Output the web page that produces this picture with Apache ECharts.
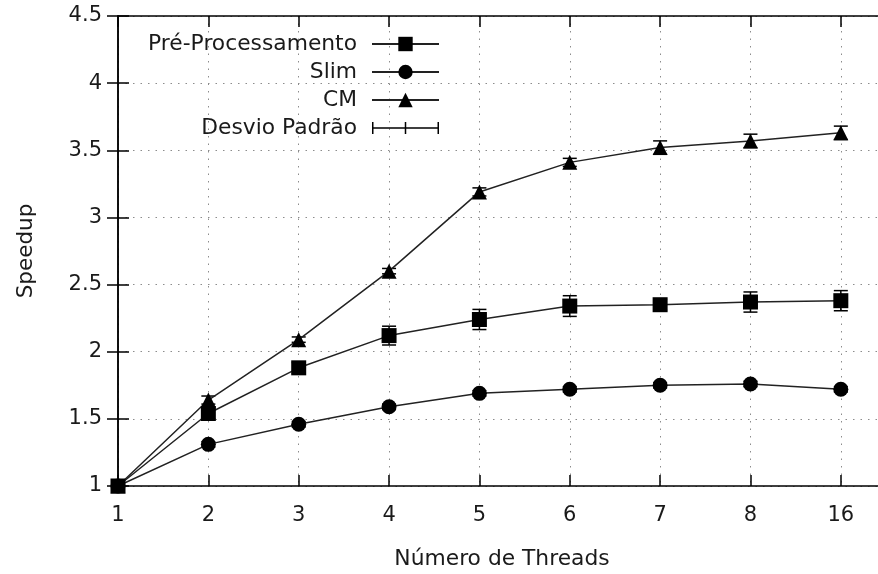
<!DOCTYPE html>
<html><head><meta charset="utf-8">
<script src="https://cdn.jsdelivr.net/npm/echarts@6/dist/echarts.min.js"></script>
<style>html,body{margin:0;padding:0;background:#fff}#c{width:878px;height:574px}</style>
</head><body><div id="c"></div>
<script>
const threads = ['1','2','3','4','5','6','7','8','16'];
const preProc    = [1.00, 1.54, 1.88, 2.12, 2.24, 2.34, 2.35, 2.37, 2.38];
const preProcErr = [0.00, 0.04, 0.04, 0.07, 0.075, 0.077, 0.04, 0.075, 0.075];
const slim       = [1.00, 1.31, 1.46, 1.59, 1.69, 1.72, 1.75, 1.76, 1.72];
const slimErr    = [0.00, 0.02, 0.02, 0.02, 0.02, 0.02, 0.02, 0.02, 0.02];
const cm         = [1.00, 1.64, 2.09, 2.60, 3.19, 3.41, 3.52, 3.57, 3.63];
const cmErr      = [0.00, 0.03, 0.02, 0.02, 0.03, 0.03, 0.05, 0.05, 0.05];
const seriesNames = ['Pré-Processamento', 'Slim', 'CM', 'Desvio Padrão'];
const yMin = 1, yMax = 4.5, yStep = 0.5;

const FONT = 'DejaVu Sans';
const TXT = '#1a1a1a';

function pts(arr) { return arr.map((v, i) => [i, v]); }
const errData = [];
[[preProc, preProcErr], [slim, slimErr], [cm, cmErr]].forEach(([vals, errs]) => {
  vals.forEach((v, i) => { if (errs[i] > 0) errData.push([i, v - errs[i], v + errs[i]]); });
});

const chart = echarts.init(document.getElementById('c'), null, {renderer: 'canvas'});
const axisLine = {show: true, lineStyle: {color: '#000', width: 1.5}};
const tick = {show: true, inside: true, length: 11, lineStyle: {color: '#000', width: 1.5}};
const grid = {show: true, lineStyle: {color: '#8c8c8c', width: 1, type: [1.5, 6]}};
const xFmt = v => (Number.isInteger(v) && threads[v] !== undefined) ? threads[v] : '';

const errIcon = 'path://M0,5.25h67v1.5h-67z M0,0h1.5v12h-1.5z M32.75,0h1.5v12h-1.5z M65.5,0h1.5v12h-1.5z';

chart.setOption({
  animation: false,
  textStyle: {fontFamily: FONT},
  grid: {left: 118, right: -8, top: 16, bottom: 88, containLabel: false, outerBoundsMode: 'none'},
  xAxis: [{
    type: 'value', min: 0, max: 8.5, interval: 1, position: 'bottom',
    name: 'Número de Threads', nameLocation: 'middle', nameGap: 62,
    nameTextStyle: {fontSize: 21.8, color: TXT, fontFamily: FONT},
    axisLine, axisTick: tick, splitLine: grid,
    axisLabel: {formatter: xFmt, fontSize: 21, color: TXT, margin: 19, fontFamily: FONT, showMaxLabel: false}
  }, {
    type: 'value', min: 0, max: 8.5, interval: 1, position: 'top',
    axisLine, axisTick: tick, splitLine: {show: false}, axisLabel: {show: false}
  }],
  yAxis: [{
    type: 'value', min: yMin, max: yMax, interval: yStep, position: 'left',
    name: 'Speedup', nameLocation: 'middle', nameGap: 81, nameRotate: 90,
    nameTextStyle: {fontSize: 21.5, color: TXT, fontFamily: FONT},
    axisLine, axisTick: tick, splitLine: grid,
    axisLabel: {fontSize: 21, color: TXT, margin: 16, fontFamily: FONT}
  }, {
    type: 'value', min: yMin, max: yMax, interval: yStep, position: 'right',
    axisLine, axisTick: tick, splitLine: {show: false}, axisLabel: {show: false}
  }],
  legend: {
    orient: 'vertical', align: 'right', right: 438, top: 33, padding: 0,
    itemWidth: 67, itemHeight: 18, itemGap: 6, selectedMode: false,
    textStyle: {fontSize: 21.8, color: TXT, fontFamily: FONT, lineHeight: 18, padding: [0, 10, 0, 0]},
    data: [
      {name: seriesNames[0]}, {name: seriesNames[1]}, {name: seriesNames[2]},
      {name: seriesNames[3], icon: errIcon, itemStyle: {color: '#000'}}
    ]
  },
  series: [
    {
      name: seriesNames[3], type: 'custom', xAxisIndex: 0, yAxisIndex: 0,
      itemStyle: {color: '#000'}, z: 2,
      encode: {x: 0, y: [1, 2]},
      data: errData,
      renderItem(params, api) {
        const x = api.value(0), lo = api.value(1), hi = api.value(2);
        const a = api.coord([x, lo]), b = api.coord([x, hi]);
        const hw = 7;
        const style = {stroke: '#000', lineWidth: 1.5, fill: null};
        return {type: 'group', children: [
          {type: 'line', shape: {x1: a[0], y1: a[1], x2: b[0], y2: b[1]}, style},
          {type: 'line', shape: {x1: a[0] - hw, y1: a[1], x2: a[0] + hw, y2: a[1]}, style},
          {type: 'line', shape: {x1: b[0] - hw, y1: b[1], x2: b[0] + hw, y2: b[1]}, style}
        ]};
      }
    },
    {name: seriesNames[0], type: 'line', data: pts(preProc), symbol: 'rect', symbolSize: 15,
     color: '#000', lineStyle: {color: '#222', width: 1.5}, itemStyle: {color: '#000'}, z: 3},
    {name: seriesNames[1], type: 'line', data: pts(slim), symbol: 'circle', symbolSize: 15,
     color: '#000', lineStyle: {color: '#222', width: 1.5}, itemStyle: {color: '#000'}, z: 3},
    {name: seriesNames[2], type: 'line', data: pts(cm), symbol: 'triangle', symbolSize: 15,
     color: '#000', lineStyle: {color: '#222', width: 1.5}, itemStyle: {color: '#000'}, z: 3}
  ]
});
</script>
</body></html>
